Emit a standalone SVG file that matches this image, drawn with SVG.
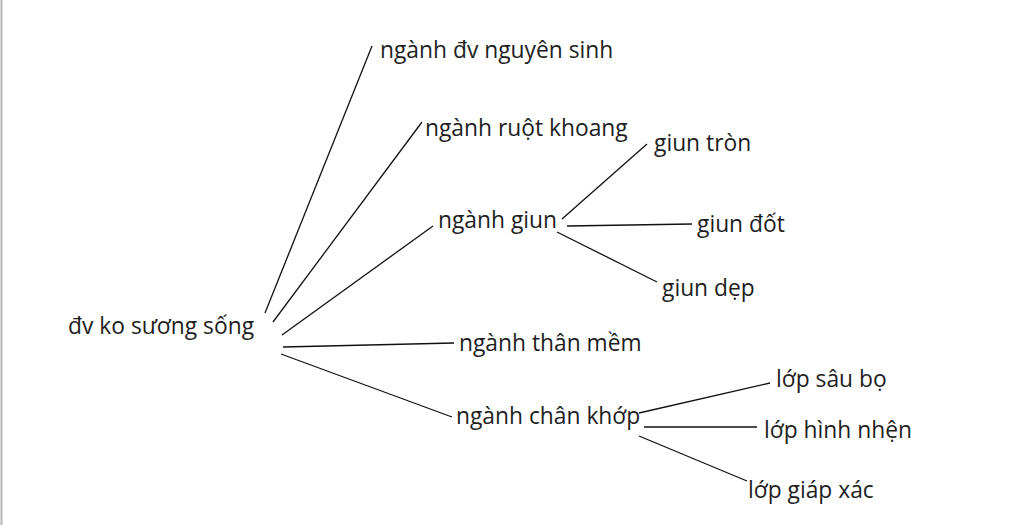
<svg xmlns="http://www.w3.org/2000/svg" width="1024" height="525" viewBox="0 0 1024 525">
<style>
text{font-family:"Open Sans","Noto Sans","DejaVu Sans",sans-serif;font-size:22.8px;fill:#1e1e1e}
.c line{stroke:#111;stroke-width:1.3;fill:none}
</style>
<rect width="1024" height="525" fill="#fff"/>
<line x1="1.5" y1="0" x2="1.5" y2="525" stroke="#b4b4b4" stroke-width="2"/>
<g class="c" id="connectors">
<line x1="265" y1="313" x2="372" y2="46"/>
<line x1="273" y1="322" x2="422" y2="122"/>
<line x1="282" y1="335" x2="433" y2="226"/>
<line x1="283" y1="347" x2="454" y2="343"/>
<line x1="281" y1="354" x2="452" y2="417"/>
<line x1="562" y1="219" x2="647" y2="144"/>
<line x1="567" y1="226" x2="692" y2="224"/>
<line x1="557" y1="232" x2="657" y2="282"/>
<line x1="639" y1="413" x2="770" y2="383"/>
<line x1="644" y1="427" x2="757" y2="427"/>
<line x1="639" y1="436" x2="747" y2="481"/>
</g>
<g id="root"><text x="68" y="334">đv ko sương sống</text></g>
<g id="n1"><text x="380" y="58">ngành đv nguyên sinh</text></g>
<g id="n2"><text x="425" y="136">ngành ruột khoang</text></g>
<g id="n3"><text x="438" y="228">ngành giun</text></g>
<g id="n4"><text x="459" y="351">ngành thân mềm</text></g>
<g id="n5"><text x="456" y="424">ngành chân khớp</text></g>
<g id="g1"><text x="654" y="151">giun tròn</text></g>
<g id="g2"><text x="697" y="232">giun đốt</text></g>
<g id="g3"><text x="662" y="296">giun dẹp</text></g>
<g id="c1"><text x="776" y="387">lớp sâu bọ</text></g>
<g id="c2"><text x="764" y="438">lớp hình nhện</text></g>
<g id="c3"><text x="748" y="498">lớp giáp xác</text></g>
</svg>
